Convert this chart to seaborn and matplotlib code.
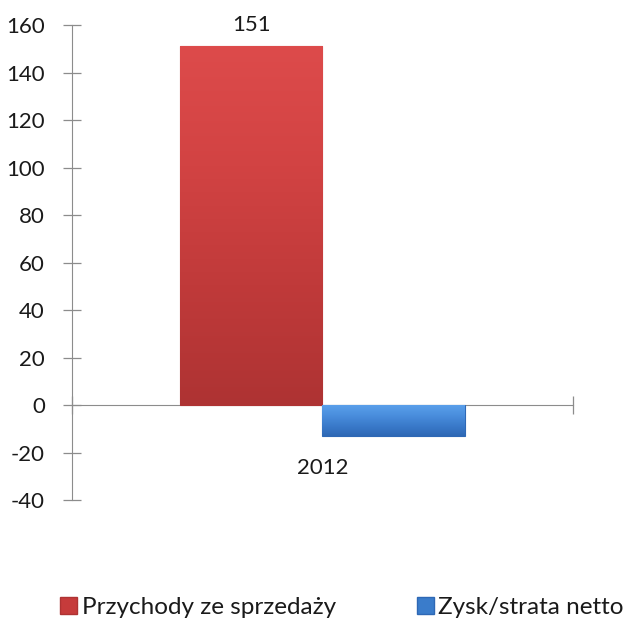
import numpy as np
import pandas as pd
import matplotlib
matplotlib.use("Agg")
import matplotlib.pyplot as plt
from matplotlib.colors import LinearSegmentedColormap
import seaborn as sns

# Financial figures (mln zł)
years = ["2012"]
series = ["Przychody ze sprzedaży", "Zysk/strata netto"]
revenue = [151]
net_result = [-13]
y_ticks = [-40, -20, 0, 20, 40, 60, 80, 100, 120, 140, 160]

df = pd.DataFrame({
    "rok": years * 2,
    "seria": [series[0]] * len(years) + [series[1]] * len(years),
    "wartosc": revenue + net_result,
})

sns.set_style("white")
plt.rcParams["font.family"] = ["Lato", "DejaVu Sans"]

text_color = "#1A1A1A"
colors = {series[0]: "#C63B3B", series[1]: "#3A7CCB"}
gradients = {
    series[0]: ["#DD4B4B", "#D24343", "#C03A3A", "#AE3333"],
    series[1]: ["#5A9FEA", "#4A8EDD", "#3A7ACA", "#2E68B5"],
}

fig = plt.figure(figsize=(6.30, 6.19), dpi=100)
ax = fig.add_axes([0.1143, 0.1922, 0.7952, 0.7674])

sns.barplot(data=df, x="rok", y="wartosc", hue="seria", palette=colors,
            width=0.57, ax=ax, legend=False, saturation=1)

# Vertical shading inside each bar
for container, name in zip(ax.containers, series):
    cmap = LinearSegmentedColormap.from_list(name, gradients[name])
    for bar in container:
        x0, y0 = bar.get_x(), bar.get_y()
        w, h = bar.get_width(), bar.get_height()
        ylo, yhi = min(y0, y0 + h), max(y0, y0 + h)
        grad = np.linspace(0, 1, 256).reshape(-1, 1)
        im = ax.imshow(grad, cmap=cmap, aspect="auto", origin="upper",
                       extent=[x0, x0 + w, ylo, yhi], zorder=bar.get_zorder() + 0.1)
        im.set_clip_path(bar)
        bar.set_edgecolor(gradients[name][-1])
        bar.set_linewidth(0.8)

ax.bar_label(ax.containers[0], labels=[str(v) for v in revenue],
             padding=8, fontsize=16, color=text_color)

ax.set_xlim(-0.5, 0.5)
ax.set_ylim(-40, 160)
ax.set_yticks(y_ticks)
ax.set_yticklabels([str(t) for t in y_ticks], fontsize=16, color=text_color)
ax.set_xlabel("")
ax.set_ylabel("")

# Axis lines
for s in ["top", "right"]:
    ax.spines[s].set_visible(False)
ax.spines["bottom"].set_position(("data", 0))
ax.spines["left"].set_color("#8C8C8C")
ax.spines["bottom"].set_color("#8C8C8C")
ax.spines["left"].set_zorder(0.5)
ax.spines["bottom"].set_zorder(0.5)

ax.tick_params(axis="y", direction="inout", length=13, width=0.9,
               color="#8C8C8C", pad=13, left=True)
ax.set_xticks([0])
ax.set_xticklabels(years, fontsize=16, color=text_color)
ax.set_xticks([-0.5, 0.5], minor=True)
ax.tick_params(axis="x", which="major", length=0, pad=38)
ax.tick_params(axis="x", which="minor", direction="inout", length=13,
               width=0.9, color="#8C8C8C", bottom=True)

handles = [plt.Rectangle((0, 0), 1, 1, facecolor=colors[s],
                         edgecolor=gradients[s][-1]) for s in series]
fig.legend(handles, series, loc="center", bbox_to_anchor=(0.543, 0.019),
           ncol=2, frameon=False, fontsize=17.5, handlelength=0.7,
           handleheight=0.7, handletextpad=0.2, columnspacing=3.3,
           labelcolor=text_color)

fig.savefig("out.png", dpi=100)
